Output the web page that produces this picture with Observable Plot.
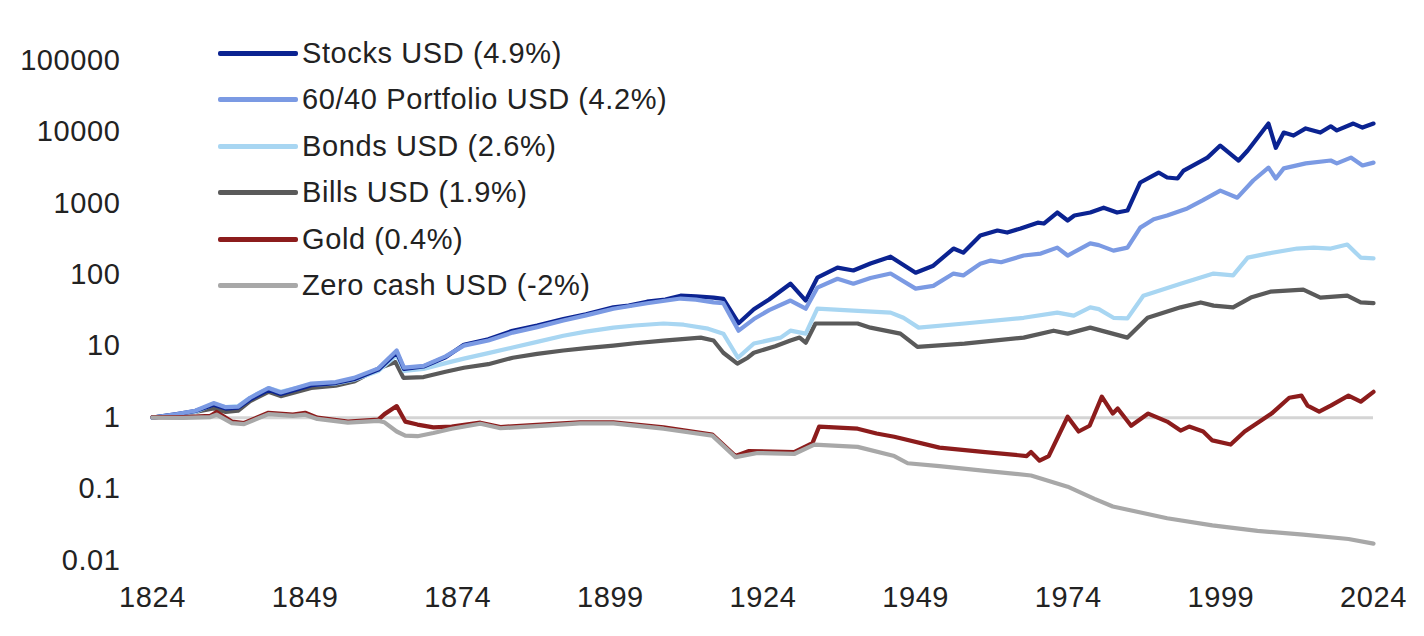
<!DOCTYPE html>
<html>
<head>
<meta charset="utf-8">
<script src="https://cdn.jsdelivr.net/npm/d3@7"></script>
<script src="https://cdn.jsdelivr.net/npm/@observablehq/plot@0.6"></script>
<style>
  html, body { margin: 0; padding: 0; background: #fff; }
  #wrap { position: relative; width: 1424px; height: 636px; }
  #wrap svg text { letter-spacing: 0.6px; }
  #legend { position: absolute; left: 218px; top: 30px; font-family: "Liberation Sans", Arial, sans-serif; font-size: 29px; color: #222; letter-spacing: 0.6px; }
  .row { display: flex; align-items: center; height: 46.5px; white-space: nowrap; }
  .sw { width: 80px; height: 5px; margin-right: 4px; border-radius: 2px; }
</style>
</head>
<body>
<div id="wrap"><div id="legend"></div></div>
<script>
// ---- Data ----
const xTicks = [1824, 1849, 1874, 1899, 1924, 1949, 1974, 1999, 2024];
const yTicks = [100000, 10000, 1000, 100, 10, 1, 0.1, 0.01];
const yTickLabels = ["100000", "10000", "1000", "100", "10", "1", "0.1", "0.01"];

const seriesNames = [
  "Stocks USD (4.9%)",
  "60/40 Portfolio USD (4.2%)",
  "Bonds USD (2.6%)",
  "Bills USD (1.9%)",
  "Gold (0.4%)",
  "Zero cash USD (-2%)"
];
const seriesColors = ["#0b2391", "#7b9ae3", "#a8d6f2", "#5a5a5a", "#8c1c1c", "#a8a8a8"];

const stocks = [
  [1824,1],[1828,1.12],[1831,1.24],[1834,1.52],[1836,1.34],[1838,1.38],[1840,1.8],[1843,2.45],
  [1845,2.15],[1850,2.85],[1854,3.05],[1857,3.45],[1861,4.7],[1864,8.2],[1865.2,4.8],[1868.4,5.2],
  [1872,7],[1875,10.5],[1879,12.5],[1883,16.5],[1887,19.5],[1891.3,24],[1895,28],[1899.5,35],
  [1902,37],[1905,42],[1908,45],[1910.5,51],[1913,50],[1915.9,48],[1917.5,46],[1920,21],
  [1922.5,33],[1925,45],[1928.5,75],[1931,43.6],[1932.9,91],[1936.2,126],[1938.8,115],[1941.6,144],
  [1944.9,179],[1949,107],[1951.9,134],[1955.2,233],[1956.8,204],[1959.6,355],[1962.4,417],
  [1964,390],[1966.2,445],[1969,537],[1970,522],[1972.2,744],[1973.9,575],[1975,675],[1977.6,744],
  [1979.8,870],[1982,744],[1983.7,793],[1985.8,1960],[1988.8,2700],[1990.2,2300],[1991.9,2230],
  [1992.9,2880],[1996.8,4370],[1998.9,6440],[2001.9,3980],[2003.4,5500],[2006.8,13100],[2008,6000],
  [2009.3,9800],[2010.9,8900],[2012.9,11200],[2015.3,9800],[2017,12000],[2018,10500],[2020.7,13100],
  [2022.2,11500],[2024,13100]
];
const portfolio6040 = [
  [1824,1],[1828,1.12],[1831,1.25],[1834,1.6],[1836,1.4],[1838,1.42],[1840,1.9],[1843,2.6],
  [1845,2.25],[1850,3.0],[1854,3.15],[1857,3.6],[1861,4.9],[1864,8.7],[1865.2,5.0],[1868.4,5.3],
  [1872,7.2],[1875,10.2],[1879,12],[1883,15.5],[1887,18.5],[1891.3,22.9],[1895,27],[1899.5,33.5],
  [1905,40],[1910.5,46.5],[1913,45],[1915.9,41],[1917.5,40],[1920,16.5],[1922.5,24],[1925,32],
  [1928.5,43.6],[1931,33.5],[1932.9,66],[1936.2,88],[1938.8,75],[1941.6,90],[1944.9,104],[1949,64],
  [1951.9,70],[1955.2,104],[1956.8,98],[1959.6,143],[1961.3,158],[1963,150],[1966.7,186],
  [1969.5,198],[1972.2,240],[1973.9,186],[1977.6,275],[1979,260],[1981.4,218],[1983.7,240],
  [1985.8,457],[1988,600],[1990.2,675],[1993.5,850],[1996,1100],[1998.9,1510],[2001.7,1200],
  [2004.3,2090],[2006.8,3160],[2008,2230],[2009.3,3090],[2012.9,3630],[2017,3980],[2018,3630],
  [2020.3,4370],[2022.2,3390],[2024,3720]
];
const bonds = [
  [1824,1],[1828,1.1],[1831,1.2],[1834,1.55],[1836,1.4],[1838,1.45],[1840,1.9],[1843,2.6],
  [1845,2.3],[1850,2.9],[1854,3.0],[1857,3.4],[1861,4.5],[1864,7.5],[1865.2,4.5],[1868.4,4.8],
  [1872,5.8],[1875,6.7],[1879,8],[1883,9.6],[1887,11.5],[1891.3,14],[1895,16],[1899.5,18.2],
  [1903,19.5],[1907.7,20.8],[1911,20],[1915,17.6],[1917.5,15],[1919.9,6.9],[1922.5,10.9],
  [1926.9,13.2],[1928.5,16.5],[1931,15],[1932.9,33.5],[1938.8,31.5],[1944.9,29.5],[1947,25],
  [1949.5,18.2],[1957,20.8],[1966.7,25],[1972.2,29.5],[1974.9,26.8],[1977.6,35],[1979,33],
  [1981.4,25],[1983.7,24.5],[1986.3,51],[1992.4,75],[1997.8,104],[2001,98],[2003.4,174],
  [2006.6,198],[2011.5,233],[2014.2,240],[2017,233],[2019.7,265],[2021.9,174],[2024,170]
];
const bills = [
  [1824,1],[1828,1.1],[1831,1.2],[1834,1.35],[1836,1.2],[1838,1.25],[1840,1.7],[1843,2.3],
  [1845,2.0],[1850,2.6],[1854,2.8],[1857,3.2],[1861.3,5.0],[1863.8,6.0],[1865.1,3.6],[1868.4,3.7],
  [1872,4.4],[1875,5.0],[1879,5.6],[1883,6.9],[1887,7.8],[1891.3,8.7],[1895,9.4],[1899.5,10.2],
  [1903,11],[1907.7,12],[1913.8,13.2],[1915.9,12],[1917.5,8.1],[1919.8,5.7],[1921.5,6.9],
  [1922.5,8.1],[1926,10],[1928.5,12],[1930,13.2],[1931,11.2],[1932.6,20.8],[1939.5,20.8],
  [1941.6,18.2],[1946.5,15],[1949.3,9.8],[1957,10.9],[1966.7,13.2],[1971.6,16.5],[1973.9,15],
  [1977.6,18.2],[1983.7,13.2],[1987,25],[1992.4,35],[1995.7,41],[1997.8,37],[2001,35],[2003.9,48],
  [2007.1,58],[2012.5,62],[2015.3,48],[2019.7,51],[2021.9,41],[2024,40]
];
const gold = [
  [1824,1.02],[1829,1.02],[1833.5,1.06],[1834.5,1.2],[1837,0.88],[1839,0.84],[1843,1.17],[1847,1.1],
  [1849,1.17],[1851,1.0],[1856,0.88],[1861,0.94],[1862,1.12],[1864,1.45],[1865.4,0.88],[1867.4,0.8],
  [1870,0.73],[1873,0.75],[1877.7,0.85],[1881,0.74],[1889,0.81],[1894,0.86],[1899.5,0.86],
  [1907.7,0.73],[1915.7,0.58],[1919.5,0.29],[1921.6,0.34],[1929.1,0.33],[1932.1,0.44],[1933.2,0.75],
  [1939.5,0.70],[1942.6,0.60],[1945.5,0.54],[1952.9,0.38],[1960.4,0.33],[1967.2,0.29],[1967.9,0.33],
  [1969.3,0.25],[1970.8,0.29],[1973.9,1.03],[1975.7,0.64],[1977.5,0.77],[1979.5,1.97],[1981.3,1.14],
  [1982.1,1.34],[1984.3,0.77],[1987.1,1.14],[1990.2,0.88],[1992.4,0.66],[1993.8,0.75],[1996.1,0.64],
  [1997.6,0.48],[2000.6,0.42],[2002.9,0.64],[2007.3,1.14],[2010.2,1.9],[2012.2,2.03],[2013.2,1.47],
  [2015.1,1.21],[2017,1.47],[2019.9,2.03],[2021.9,1.67],[2024,2.3]
];
const zeroCash = [
  [1824,1],[1829,0.99],[1833.5,1.02],[1834.5,1.1],[1837,0.84],[1839,0.81],[1843,1.12],[1847,1.06],
  [1849,1.1],[1851,0.96],[1856,0.85],[1861,0.9],[1862,0.86],[1864,0.64],[1865.4,0.56],[1867.4,0.55],
  [1870,0.61],[1873,0.7],[1877.7,0.82],[1881,0.71],[1889,0.78],[1894,0.83],[1899.5,0.83],
  [1907.7,0.7],[1915.7,0.56],[1919.5,0.28],[1923.1,0.32],[1929.1,0.31],[1932.4,0.42],[1939.5,0.39],
  [1945.5,0.29],[1947.7,0.23],[1952.9,0.21],[1960.4,0.18],[1967.9,0.155],[1973.9,0.108],
  [1978.3,0.073],[1981.3,0.057],[1990.2,0.039],[1997.6,0.031],[2005,0.026],[2012.5,0.023],
  [2019.9,0.020],[2024,0.0172]
];
const baseline = [1];

// ---- Build ----
const seriesData = [stocks, portfolio6040, bonds, bills, gold, zeroCash];
const tidy = seriesData.map((arr, i) => arr.map(([year, value]) => ({series: seriesNames[i], year, value})));
const drawOrder = [3, 2, 0, 1, 4, 5]; // bills, bonds, stocks, 60/40, gold, zero cash

const font = '"Liberation Sans", Arial, sans-serif';
const chart = Plot.plot({
  width: 1424,
  height: 636,
  marginLeft: 152,
  marginRight: 51,
  marginTop: 60,
  marginBottom: 76,
  style: {fontFamily: font, fontSize: "29px", color: "#222", background: "#fff"},
  x: {domain: [xTicks[0], xTicks[xTicks.length - 1]], label: null},
  y: {type: "log", domain: [yTicks[yTicks.length - 1], yTicks[0]], label: null},
  marks: [
    Plot.ruleY(baseline, {stroke: "#d4d4d4", strokeWidth: 3}),
    ...drawOrder.map(i => Plot.line(tidy[i], {
      x: "year", y: "value", stroke: seriesColors[i], strokeWidth: 4.2,
      strokeLinejoin: "round", strokeLinecap: "round"
    })),
    Plot.axisX({ticks: xTicks, tickFormat: d => String(d), tickSize: 0, tickPadding: 26, fontSize: 29, fill: "#222"}),
    Plot.axisY({ticks: yTicks, tickFormat: d => yTickLabels[yTicks.indexOf(d)], tickSize: 0, tickPadding: 32, fontSize: 29, fill: "#222"})
  ]
});
document.getElementById("wrap").prepend(chart);

// legend
const legend = document.getElementById("legend");
seriesNames.forEach((name, i) => {
  const row = document.createElement("div");
  row.className = "row";
  const sw = document.createElement("div");
  sw.className = "sw";
  sw.style.background = seriesColors[i];
  const t = document.createElement("span");
  t.textContent = name;
  row.append(sw, t);
  legend.append(row);
});
</script>
</body>
</html>
